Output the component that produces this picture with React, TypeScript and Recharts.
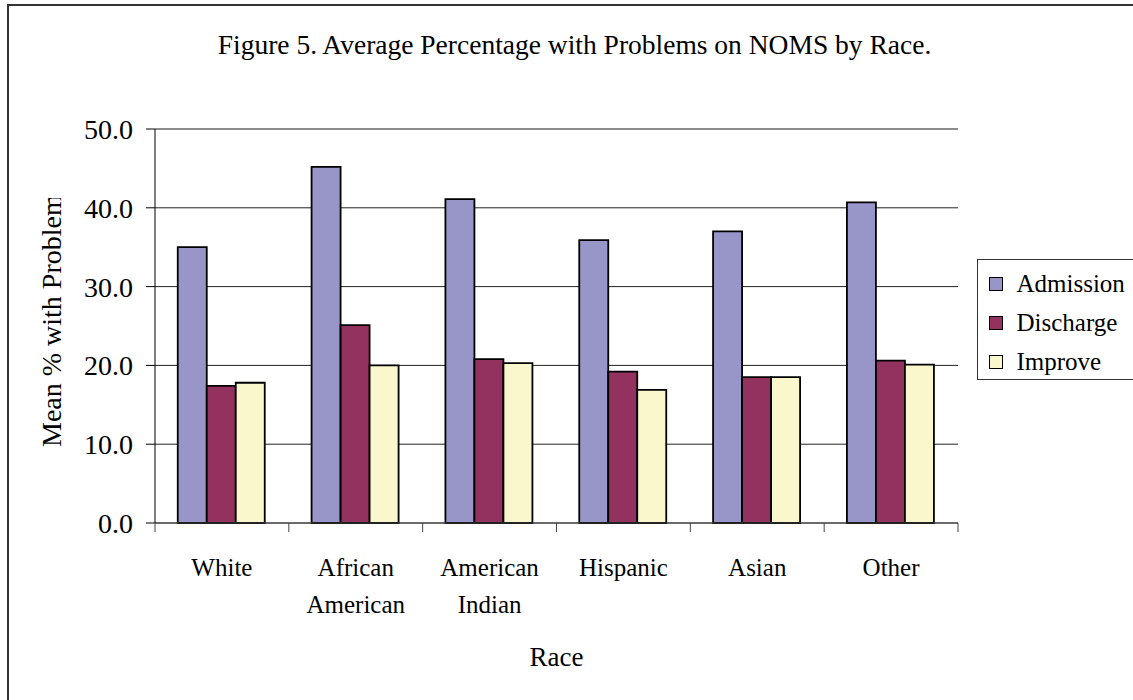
import React from 'react';
import {
  BarChart,
  Bar,
  XAxis,
  YAxis,
  CartesianGrid,
  Legend,
  ReferenceLine,
} from 'recharts';

const races = ['White', 'African\nAmerican', 'American\nIndian', 'Hispanic', 'Asian', 'Other'];
const admission = [35.0, 45.2, 41.1, 35.9, 37.0, 40.7];
const discharge = [17.4, 25.1, 20.8, 19.2, 18.5, 20.6];
const improve = [17.8, 20.0, 20.3, 16.9, 18.5, 20.1];
const yTicks = [0, 10, 20, 30, 40, 50];

const data = races.map((race, i) => ({
  race,
  admission: admission[i],
  discharge: discharge[i],
  improve: improve[i],
}));

const SERIF = "'Liberation Serif', 'Times New Roman', serif";
const W = 1133;
const H = 700;
const MARGIN = { top: 129, right: 175, bottom: 100, left: 0 };
const PLOT_W = W - 155 - MARGIN.right;

const RaceTick = (props: any) => {
  const { x, y, payload } = props;
  const half = typeof payload?.offset === 'number' && payload.offset > 0 ? payload.offset : PLOT_W / races.length / 2;
  const lines = String(payload.value).split('\n');
  const last = payload.index === races.length - 1;
  return (
    <g>
      <line x1={x - half} x2={x - half} y1={y} y2={y + 9} stroke="#444" />
      {last && <line x1={x + half} x2={x + half} y1={y} y2={y + 9} stroke="#444" />}
      <text x={x} y={y} textAnchor="middle" fill="#000" fontSize={25} fontFamily={SERIF}>
        {lines.map((l, i) => (
          <tspan key={i} x={x} dy={i === 0 ? 53 : 37}>
            {l}
          </tspan>
        ))}
      </text>
    </g>
  );
};

const RaceLabel = (props: any) => {
  const vb = props.viewBox || { x: 155, y: 523, width: PLOT_W };
  return (
    <text x={vb.x + vb.width / 2} y={vb.y + 143} textAnchor="middle" fill="#000" fontSize={27} fontFamily={SERIF}>
      Race
    </text>
  );
};

// the original clips the end of the y label, keep that look
const YLabel = () => (
  <g clipPath="url(#ylab-clip)">
    <defs>
      <clipPath id="ylab-clip">
        <rect x={0} y={198} width={150} height={400} />
      </clipPath>
    </defs>
    <text transform="translate(61,447) rotate(-90)" fill="#000" fontSize={28} fontFamily={SERIF}>
      Mean % with Problem
    </text>
  </g>
);

const LegendBox = ({ payload }: any) => (
  <div style={{ paddingTop: 4 }}>
    {(payload || []).map((entry: any) => (
      <div key={entry.value} style={{ display: 'flex', alignItems: 'center', height: 39 }}>
        <span
          style={{
            width: 14,
            height: 14,
            boxSizing: 'border-box',
            background: entry.color,
            border: '1.5px solid #000',
            marginLeft: 10.5,
            marginRight: 14,
          }}
        />
        <span style={{ lineHeight: '39px' }}>{entry.value}</span>
      </div>
    ))}
  </div>
);

export default function App() {
  return (
    <div style={{ position: 'fixed', left: 0, top: 0, width: W, height: H, overflow: 'hidden', background: '#fff' }}>
      <div
        style={{
          position: 'absolute',
          left: 7,
          top: 4,
          width: 1160,
          height: 730,
          border: '2px solid #333',
        }}
      />
      <div
        style={{
          position: 'absolute',
          left: 0,
          top: 31,
          width: 1149,
          textAlign: 'center',
          fontFamily: SERIF,
          fontSize: 27.5,
          lineHeight: '27px',
          color: '#000',
        }}
      >
        Figure 5. Average Percentage with Problems on NOMS by Race.
      </div>
      <div style={{ position: 'absolute', left: 0, top: 0 }}>
        <BarChart width={W} height={H} data={data} margin={MARGIN} barGap={0} barCategoryGap="17%">
          <CartesianGrid yAxisId="left" vertical={false} stroke="#222" />
          <XAxis
            dataKey="race"
            height={77}
            interval={0}
            tickLine={false}
            tickSize={0}
            tickMargin={0}
            tick={<RaceTick />}
            axisLine={{ stroke: '#444' }}
            label={<RaceLabel />}
          />
          <YAxis
            yAxisId="left"
            width={155}
            domain={[0, 50]}
            ticks={yTicks}
            interval={0}
            tickFormatter={(v: number) => v.toFixed(1)}
            tick={{ fill: '#000', fontSize: 28, fontFamily: SERIF }}
            tickSize={9}
            tickMargin={13}
            tickLine={{ stroke: '#000' }}
            axisLine={{ stroke: '#000' }}
            label={<YLabel />}
          />
          <YAxis
            yAxisId="right"
            orientation="right"
            width={0}
            domain={[0, 50]}
            tick={false}
            tickLine={false}
            axisLine={{ stroke: '#888' }}
          />
          <ReferenceLine yAxisId="left" y={50} stroke="#888" />
          <Legend
            layout="vertical"
            align="center"
            verticalAlign="middle"
            content={<LegendBox />}
            wrapperStyle={{
              left: 977,
              top: 259,
              width: 200,
              height: 121,
              border: '1.5px solid #333',
              boxSizing: 'border-box',
              background: '#fff',
              fontFamily: SERIF,
              fontSize: 25,
              color: '#000',
            }}
          />
          <Bar yAxisId="left" dataKey="admission" name="Admission" fill="#9896C8" stroke="#000" strokeWidth={1.8} isAnimationActive={false} />
          <Bar yAxisId="left" dataKey="discharge" name="Discharge" fill="#93325F" stroke="#000" strokeWidth={1.8} isAnimationActive={false} />
          <Bar yAxisId="left" dataKey="improve" name="Improve" fill="#FAF7CC" stroke="#000" strokeWidth={1.8} isAnimationActive={false} />
        </BarChart>
      </div>
    </div>
  );
}
